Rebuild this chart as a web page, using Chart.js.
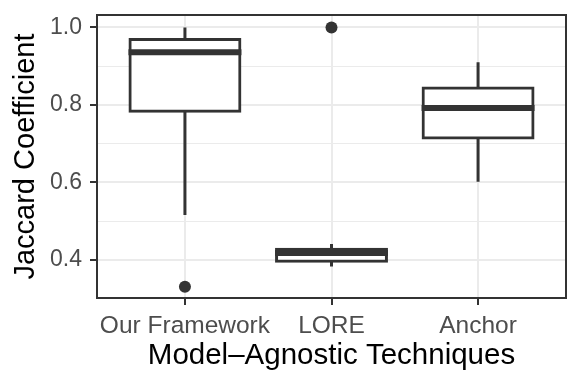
<!DOCTYPE html>
<html>
<head>
<meta charset="utf-8">
<script src="https://cdn.jsdelivr.net/npm/chart.js@4"></script>
<style>
html,body{margin:0;padding:0;background:#fff;}
#wrap{width:581px;height:388px;position:relative;}
</style>
</head>
<body>
<div id="wrap"><canvas id="c" width="581" height="388"></canvas></div>
<script>
const categories = ['Our Framework', 'LORE', 'Anchor'];
const whiskerLow = [0.516, 0.383, 0.602];
const q1 = [0.784, 0.397, 0.715];
const median = [0.936, 0.418, 0.792];
const q3 = [0.969, 0.428, 0.844];
const whiskerHigh = [1.0, 0.441, 0.910];
const outlierCategory = [0, 1];
const outlierValue = [0.331, 1.0];
const yTickValues = [0.4, 0.5, 0.6, 0.7, 0.8, 0.9, 1.0];

const LINE = '#333333';
const GRID = '#EBEBEB';
const FONT = "'Liberation Sans', Arial, Helvetica, sans-serif";

const boxData = categories.map((c, i) => ({ x: i, y: [q1[i], q3[i]] }));
const outlierData = outlierCategory.map((c, i) => ({ x: c, y: outlierValue[i] }));

const isMajor = v => Math.round(v * 10) % 2 === 0;

const boxPlugin = {
  id: 'boxExtras',
  beforeDatasetsDraw(chart) {
    const ctx = chart.ctx, xs = chart.scales.x, ys = chart.scales.y;
    ctx.save();
    ctx.strokeStyle = LINE;
    ctx.lineWidth = 3;
    ctx.lineCap = 'butt';
    categories.forEach((c, i) => {
      const x = xs.getPixelForValue(i);
      ctx.beginPath();
      ctx.moveTo(x, ys.getPixelForValue(q3[i]));
      ctx.lineTo(x, ys.getPixelForValue(whiskerHigh[i]));
      ctx.moveTo(x, ys.getPixelForValue(q1[i]));
      ctx.lineTo(x, ys.getPixelForValue(whiskerLow[i]));
      ctx.stroke();
    });
    ctx.restore();
  },
  afterDatasetsDraw(chart) {
    const ctx = chart.ctx, ys = chart.scales.y;
    const meta = chart.getDatasetMeta(0);
    ctx.save();
    ctx.strokeStyle = LINE;
    ctx.lineWidth = 6;
    categories.forEach((c, i) => {
      const bar = meta.data[i];
      const half = bar.width / 2 + 1.5;
      const y = ys.getPixelForValue(median[i]);
      ctx.beginPath();
      ctx.moveTo(bar.x - half, y);
      ctx.lineTo(bar.x + half, y);
      ctx.stroke();
    });
    ctx.restore();
  },
  afterDraw(chart) {
    const a = chart.chartArea, ctx = chart.ctx;
    ctx.save();
    ctx.strokeStyle = LINE;
    ctx.lineWidth = 2;
    ctx.strokeRect(a.left, a.top, a.right - a.left, a.bottom - a.top);
    ctx.restore();
  }
};

new Chart(document.getElementById('c'), {
  data: {
    datasets: [
      {
        type: 'bar',
        data: boxData,
        backgroundColor: '#FFFFFF',
        borderColor: LINE,
        borderWidth: 3,
        borderSkipped: false,
        inflateAmount: 1.5,
        barPercentage: 0.75,
        categoryPercentage: 1.0,
        order: 2
      },
      {
        type: 'scatter',
        data: outlierData,
        backgroundColor: LINE,
        borderColor: LINE,
        pointRadius: 6,
        borderWidth: 0,
        order: 1
      }
    ]
  },
  options: {
    responsive: false,
    animation: false,
    devicePixelRatio: 1,
    layout: { padding: { top: 15, right: 15, left: 0, bottom: 0 } },
    plugins: { legend: { display: false }, tooltip: { enabled: false } },
    scales: {
      x: {
        type: 'linear',
        min: -0.6,
        max: 2.6,
        offset: false,
        afterBuildTicks: s => { s.ticks = categories.map((c, i) => ({ value: i })); },
        afterFit: s => { s.height = 90; s.paddingLeft = 0; s.paddingRight = 0; },
        grid: { color: GRID, lineWidth: 2, tickColor: LINE, tickLength: 7, tickWidth: 2, offset: false },
        border: { display: false },
        ticks: {
          callback: v => categories[v],
          color: '#4D4D4D',
          font: { family: FONT, size: 24.5 },
          padding: 7,
          maxRotation: 0,
          autoSkip: false
        },
        title: {
          display: true,
          text: 'Model\u2013Agnostic Techniques',
          color: '#000000',
          font: { family: FONT, size: 29.5 },
          padding: { top: 0, bottom: 14 }
        }
      },
      y: {
        type: 'linear',
        min: 0.302,
        max: 1.032,
        afterBuildTicks: s => { s.ticks = yTickValues.map(v => ({ value: v })); },
        afterFit: s => { s.width = 97; s.paddingTop = 0; s.paddingBottom = 0; },
        grid: {
          color: GRID,
          lineWidth: ctx => isMajor(ctx.tick.value) ? 2 : 1,
          tickColor: ctx => isMajor(ctx.tick.value) ? LINE : 'rgba(0,0,0,0)',
          tickLength: 7,
          tickWidth: 2
        },
        border: { display: false },
        ticks: {
          callback: v => isMajor(v) ? v.toFixed(1) : '',
          color: '#4D4D4D',
          font: { family: FONT, size: 23 },
          padding: 8,
          autoSkip: false
        },
        title: {
          display: true,
          text: 'Jaccard Coefficient',
          color: '#000000',
          font: { family: FONT, size: 29 },
          padding: { top: 9, bottom: 0 }
        }
      }
    }
  },
  plugins: [boxPlugin]
});
</script>
</body>
</html>
